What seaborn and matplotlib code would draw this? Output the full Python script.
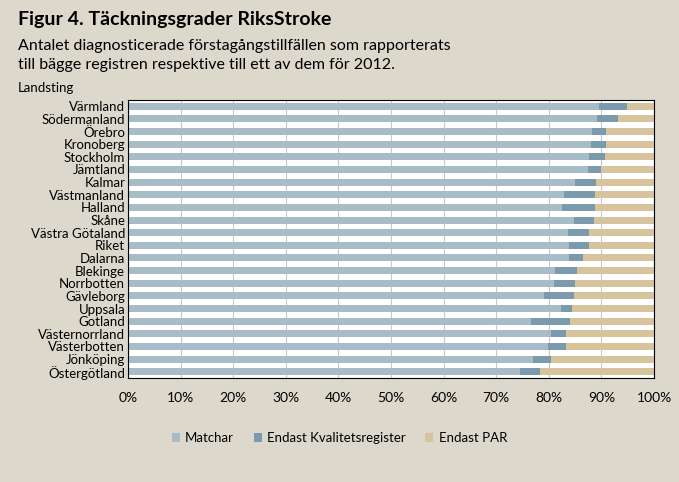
import matplotlib
matplotlib.use("Agg")
import matplotlib.pyplot as plt
import seaborn as sns
import pandas as pd
import numpy as np

landsting = ["Värmland","Södermanland","Örebro","Kronoberg","Stockholm","Jämtland","Kalmar",
             "Västmanland","Halland","Skåne","Västra Götaland","Riket","Dalarna","Blekinge",
             "Norrbotten","Gävleborg","Uppsala","Gotland","Västernorrland","Västerbotten",
             "Jönköping","Östergötland"]
matchar = [89.5,89.2,88.2,88.0,87.6,87.4,85.0,82.9,82.6,84.8,83.7,83.8,83.9,81.1,80.9,79.1,82.4,76.6,80.5,79.8,77.0,74.5]
kval = [5.3,4.0,2.7,2.9,3.1,2.6,4.0,5.8,6.2,3.7,4.0,3.8,2.6,4.3,4.0,5.7,2.0,7.5,2.8,3.5,3.4,3.8]
par = [100 - m - k for m, k in zip(matchar, kval)]

df = pd.DataFrame({"Landsting": landsting, "Matchar": matchar,
                   "Kval": np.array(matchar) + np.array(kval),
                   "Total": np.array(matchar) + np.array(kval) + np.array(par)})

plt.rcParams["font.family"] = "Lato"
bg = "#dcd9cc"
fig = plt.figure(figsize=(6.79, 4.82), dpi=100, facecolor=bg)
ax = fig.add_axes([128/679, 1-378/482, 526/679, 278/482])
ax.set_facecolor("white")

c_m, c_k, c_p = "#a8bcc8", "#7b9aad", "#d8c49c"
sns.barplot(data=df, y="Landsting", x="Total", color=c_p, width=0.55, ax=ax, orient="h", label="Endast PAR", saturation=1)
sns.barplot(data=df, y="Landsting", x="Kval", color=c_k, width=0.55, ax=ax, orient="h", label="Endast Kvalitetsregister", saturation=1)
sns.barplot(data=df, y="Landsting", x="Matchar", color=c_m, width=0.55, ax=ax, orient="h", label="Matchar", saturation=1)

ax.set_xlim(0, 100)
ax.set_xticks(range(0, 101, 10))
ax.set_xticklabels([f"{v}%" for v in range(0, 101, 10)], fontsize=10)
ax.tick_params(axis="y", labelsize=9.5, length=0, pad=2)
ax.tick_params(axis="x", length=0, pad=10)
ax.set_xlabel(""); ax.set_ylabel("")
ax.grid(axis="x", color="#c8c8c8", lw=0.8)
ax.set_axisbelow(True)
for s in ax.spines.values():
    s.set_color("black"); s.set_linewidth(0.8)

h, l = ax.get_legend_handles_labels()
if ax.get_legend() is not None:
    ax.get_legend().remove()
order = [l.index("Matchar"), l.index("Endast Kvalitetsregister"), l.index("Endast PAR")]
fig.legend([h[i] for i in order], [l[i] for i in order], loc="center", bbox_to_anchor=(0.5, 1-438/482),
           ncol=3, frameon=False, fontsize=9.5, handlelength=0.6, handleheight=0.6, columnspacing=1.5, handletextpad=0.4)

fig.text(18/679, 1-20/482, "Figur 4. Täckningsgrader RiksStroke", fontsize=14, fontweight="bold", va="center")
fig.text(18/679, 1-46/482, "Antalet diagnosticerade förstagångstillfällen som rapporterats", fontsize=11.5, va="center")
fig.text(18/679, 1-65/482, "till bägge registren respektive till ett av dem för 2012.", fontsize=11.5, va="center")
fig.text(18/679, 1-88/482, "Landsting", fontsize=9.5, va="center")

fig.savefig("out.png", dpi=100, facecolor=bg)
